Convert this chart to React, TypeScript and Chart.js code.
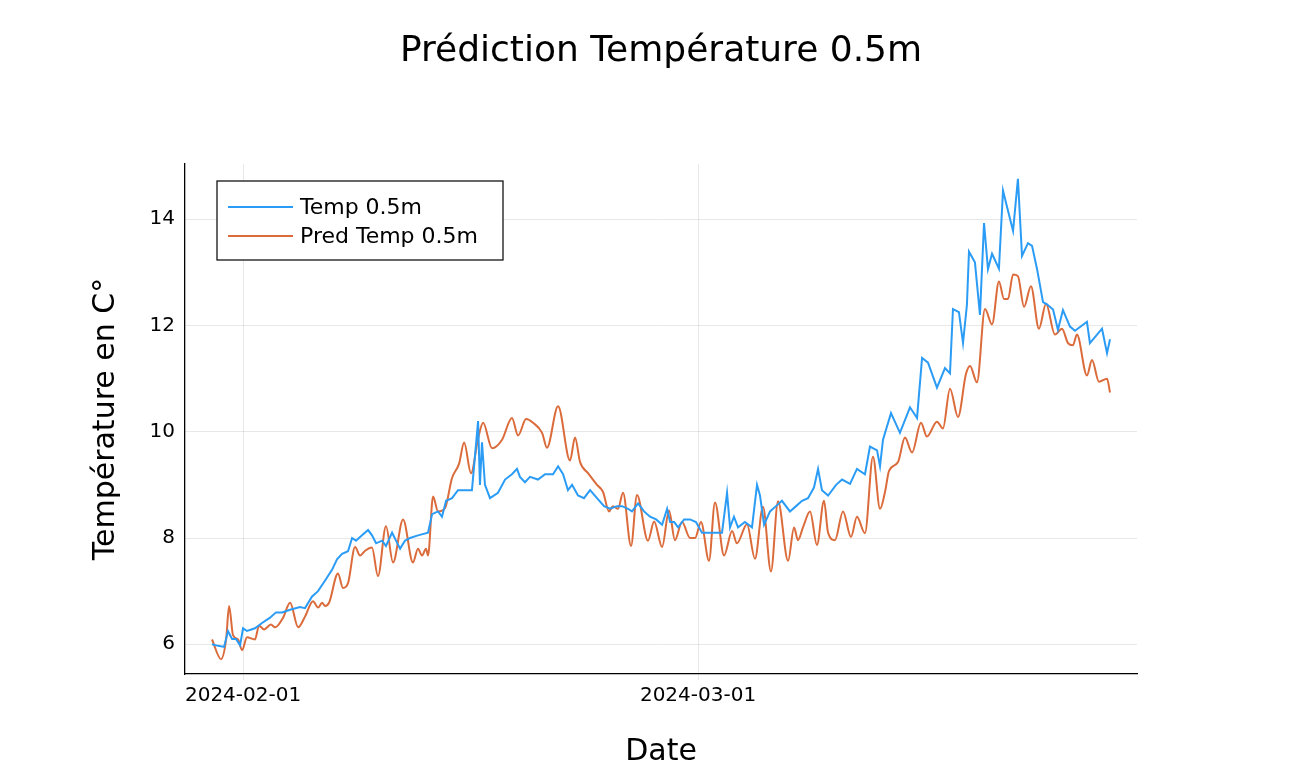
import React, { useRef, useEffect } from 'react'
import { Chart, registerables } from 'chart.js'

Chart.register(...registerables)

// days since 2024-02-01
const tempDays = [
  -1.98, -1.59, -1.21, -0.96, -0.7, -0.45, -0.19, 0, 0.25, 0.76, 1.21, 1.72, 2.1, 2.49, 3.0, 3.63, 3.95, 4.4,
  4.78, 5.23, 5.67, 5.99, 6.31, 6.69, 6.95, 7.2, 7.58, 7.97, 8.22, 8.48, 8.86, 9.11, 9.5, 9.75, 10.01, 10.32,
  10.64, 11.15, 11.79, 12.05, 12.43, 12.68, 12.94, 13.32, 13.7, 14.09, 14.59, 14.98, 15.1, 15.23, 15.42, 15.74,
  16.25, 16.7, 17.14, 17.46, 17.65, 17.97, 18.29, 18.8, 19.25, 19.76, 20.08, 20.4, 20.71, 20.97, 21.35, 21.73,
  22.12, 22.56, 23.01, 23.39, 23.84, 24.16, 24.54, 24.79, 25.18, 25.56, 25.94, 26.33, 26.71, 27.03, 27.22,
  27.48, 27.73, 28.11, 28.49, 28.87, 29.25, 29.76, 30.15, 30.53, 30.85, 31.04, 31.29, 31.55, 31.99, 32.44,
  32.76, 32.95, 33.21, 33.59, 33.97, 34.35, 34.86, 35.25, 35.63, 36.01, 36.39, 36.65, 36.9, 37.29, 37.8,
  38.18, 38.69, 39.13, 39.64, 39.96, 40.41, 40.6, 40.79, 41.3, 41.87, 42.51, 42.96, 43.28, 43.66, 44.23,
  44.74, 45.06, 45.25, 45.63, 45.89, 46.14, 46.27, 46.65, 46.97, 47.23, 47.48, 47.74, 48.18, 48.44, 48.69,
  49.08, 49.39, 49.65, 50.03, 50.29, 50.61, 50.99, 51.24, 51.63, 51.94, 52.26, 52.71, 53.03, 53.79, 53.98,
  54.75, 55.07, 55.26,
]
const tempValues = [
  6.0, 5.97, 5.95, 6.25, 6.1, 6.1, 5.98, 6.3, 6.25, 6.3, 6.4, 6.5, 6.6, 6.6, 6.65, 6.7, 6.68, 6.9,
  7.0, 7.2, 7.4, 7.6, 7.7, 7.75, 8.0, 7.95, 8.05, 8.15, 8.05, 7.9, 7.95, 7.85, 8.1, 7.95, 7.8, 7.95,
  8.0, 8.05, 8.1, 8.45, 8.5, 8.4, 8.7, 8.75, 8.9, 8.9, 8.9, 10.2, 9.0, 9.8, 9.0, 8.75,
  8.85, 9.1, 9.2, 9.3, 9.15, 9.05, 9.15, 9.1, 9.2, 9.2, 9.35, 9.2, 8.9, 9.0, 8.8, 8.75,
  8.9, 8.75, 8.6, 8.55, 8.6, 8.6, 8.55, 8.5, 8.65, 8.5, 8.4, 8.35, 8.25, 8.55, 8.3,
  8.3, 8.2, 8.35, 8.35, 8.3, 8.1, 8.1, 8.1, 8.1, 8.85, 8.2, 8.4, 8.2, 8.3, 8.2,
  9.0, 8.8, 8.25, 8.5, 8.6, 8.7, 8.5, 8.6, 8.7, 8.75, 8.95, 9.3, 8.9, 8.8, 9.0,
  9.1, 9.02, 9.3, 9.2, 9.72, 9.65, 9.35, 9.85, 10.35, 9.98, 10.46, 10.26, 11.39, 11.3, 10.83, 11.2,
  11.1, 12.31, 12.25, 11.67, 12.39, 13.39, 13.19, 12.2, 13.93, 13.06, 13.35, 13.07, 14.54, 14.24, 13.78,
  14.76, 13.31, 13.55, 13.5, 13.06, 12.44, 12.4, 12.3, 11.92, 12.29, 11.98, 11.9, 12.07, 11.67, 11.94,
  11.48, 11.74, 11.57,
]

const predDays = [
  -1.98, -1.4, -1.08, -0.89, -0.64, -0.32, -0.06, 0.25, 0.76, 1.02, 1.34, 1.78, 2.04, 2.55, 3.0, 3.51, 3.95,
  4.46, 4.78, 5.04, 5.23, 5.48, 6.05, 6.37, 6.69, 7.14, 7.46, 7.78, 8.22, 8.6, 9.11, 9.56, 10.2, 10.83, 11.15,
  11.41, 11.66, 11.79, 12.11, 12.43, 12.87, 13.32, 13.77, 14.09, 14.53, 14.98, 15.3, 15.87, 16.51, 17.14,
  17.53, 18.04, 18.48, 19.06, 19.37, 20.08, 20.84, 21.16, 21.48, 21.99, 22.56, 22.94, 23.33, 23.58, 23.9,
  24.22, 24.73, 25.11, 25.81, 26.2, 26.71, 27.15, 27.53, 27.98, 28.49, 28.81, 29.19, 29.7, 30.08, 30.66,
  31.17, 31.48, 32.12, 32.63, 33.14, 33.65, 34.1, 34.74, 35.12, 35.37, 35.69, 36.14, 36.58, 37.03, 37.29,
  37.73, 38.24, 38.75, 39.13, 39.64, 40.15, 40.6, 40.92, 41.17, 41.75, 42.19, 42.64, 43.21, 43.59, 44.23,
  44.61, 45.06, 45.57, 46.08, 46.34, 46.78, 47.29, 47.74, 48.18, 48.5, 48.76, 49.08, 49.39, 49.78, 50.22,
  50.73, 51.18, 51.75, 52.2, 52.58, 52.9, 53.15, 53.79, 54.11, 54.56, 55.07, 55.26,
]
const predValues = [
  6.09, 5.72, 6.09, 6.72, 6.17, 6.09, 5.89, 6.13, 6.09, 6.35, 6.28, 6.37, 6.32, 6.5, 6.78, 6.32, 6.52,
  6.81, 6.69, 6.78, 6.72, 6.78, 7.33, 7.06, 7.15, 7.83, 7.67, 7.76, 7.82, 7.28, 8.22, 7.54, 8.35, 7.54, 7.8,
  7.67, 7.8, 7.67, 8.78, 8.5, 8.56, 9.13, 9.4, 9.8, 9.22, 9.87, 10.17, 9.69, 9.85, 10.26,
  9.93, 10.24, 10.17, 9.98, 9.7, 10.48, 9.46, 9.89, 9.43, 9.22, 9.0, 8.87, 8.5, 8.6, 8.55,
  8.85, 7.85, 8.81, 7.95, 8.31, 7.83, 8.52, 7.96, 8.3, 8.0, 8.0, 8.3, 7.57, 8.67, 7.67,
  8.13, 7.9, 8.26, 7.61, 8.59, 7.37, 8.69, 7.57, 8.2, 7.96, 8.2, 8.5, 7.87, 8.7, 8.1,
  7.96, 8.5, 8.02, 8.4, 8.09, 9.53, 8.55, 8.87, 9.26, 9.43, 9.89, 9.61, 10.17, 9.91, 10.19,
  10.06, 10.81, 10.28, 11.09, 11.24, 10.93, 12.31, 12.02, 12.83, 12.5, 12.5, 12.96, 12.93, 12.35, 12.74,
  11.94, 12.41, 11.83, 11.94, 11.67, 11.63, 11.83, 11.06, 11.35, 10.94, 11.0, 10.74,
]

const xTickDays = [0, 29]
const xTickLabels = ['2024-02-01', '2024-03-01']
const yTicks = [6, 8, 10, 12, 14]
const seriesNames = ['Temp 0.5m', 'Pred Temp 0.5m']
const seriesColors = ['#2b9cf5', '#db6b3a']

const FONT = "'DejaVu Sans', sans-serif"

const overlay = {
  id: 'overlay',
  afterDraw(chart: any) {
    const { ctx, chartArea } = chart
    ctx.save()
    ctx.fillStyle = '#000'
    ctx.font = `36px ${FONT}`
    ctx.textAlign = 'center'
    ctx.textBaseline = 'middle'
    ctx.fillText('Prédiction Température 0.5m', 661, 52)
    // legend box
    const lx = chartArea.left + 32
    const ly = chartArea.top + 17
    ctx.fillStyle = '#fff'
    ctx.fillRect(lx, ly, 286, 79)
    ctx.strokeStyle = '#000'
    ctx.lineWidth = 1.2
    ctx.strokeRect(lx, ly, 286, 79)
    ctx.font = `22px ${FONT}`
    ctx.textAlign = 'left'
    seriesNames.forEach((name, i) => {
      const y = ly + 26 + i * 29
      ctx.strokeStyle = seriesColors[i]
      ctx.lineWidth = 2
      ctx.beginPath()
      ctx.moveTo(lx + 11, y)
      ctx.lineTo(lx + 76, y)
      ctx.stroke()
      ctx.fillStyle = '#000'
      ctx.fillText(name, lx + 83, y + 1)
    })
    ctx.restore()
  },
}

export default function App() {
  const canvasRef = useRef<HTMLCanvasElement>(null)

  useEffect(() => {
    document.body.style.margin = '0'
    if (!canvasRef.current) return
    const chart = new Chart(canvasRef.current, {
      type: 'line',
      data: {
        datasets: [
          {
            label: seriesNames[0],
            data: tempDays.map((d, i) => ({ x: d, y: tempValues[i] })),
            borderColor: seriesColors[0],
            borderWidth: 2,
            pointRadius: 0,
            tension: 0,
          },
          {
            label: seriesNames[1],
            data: predDays.map((d, i) => ({ x: d, y: predValues[i] })),
            borderColor: seriesColors[1],
            borderWidth: 2,
            pointRadius: 0,
            cubicInterpolationMode: 'monotone',
          },
        ],
      },
      options: {
        animation: false,
        responsive: false,
        layout: { padding: { left: 84, top: 164, right: 159, bottom: 0 } },
        plugins: { legend: { display: false }, tooltip: { enabled: false }, title: { display: false } },
        scales: {
          x: {
            type: 'linear',
            min: -3.7,
            max: 56.98,
            afterBuildTicks: (s: any) => { s.ticks = xTickDays.map((v) => ({ value: v })) },
            afterFit: (s: any) => { s.height = 100 },
            ticks: {
              callback: (v: any) => xTickLabels[xTickDays.indexOf(Number(v))] ?? '',
              color: '#000',
              font: { family: FONT, size: 20 },
              maxRotation: 0,
              padding: 4,
            },
            grid: { color: 'rgba(0,0,0,0.09)', tickLength: 6, drawTicks: true },
            border: { color: '#000', width: 1.3 },
            title: { display: true, text: 'Date', color: '#000', font: { family: FONT, size: 30 }, padding: { top: 4 } },
          },
          y: {
            min: 5.44,
            max: 15.04,
            afterBuildTicks: (s: any) => { s.ticks = yTicks.map((v) => ({ value: v })) },
            afterFit: (s: any) => { s.width = 101 },
            ticks: { color: '#000', font: { family: FONT, size: 20 }, padding: 10 },
            grid: { color: 'rgba(0,0,0,0.09)', drawTicks: false },
            border: { color: '#000', width: 1.3 },
            title: { display: true, text: 'Température en C°', color: '#000', font: { family: FONT, size: 30 }, padding: { bottom: 2 } },
          },
        },
      },
      plugins: [overlay],
    })
    return () => chart.destroy()
  }, [])

  return <canvas ref={canvasRef} width={1296} height={774} style={{ display: 'block' }} />
}
